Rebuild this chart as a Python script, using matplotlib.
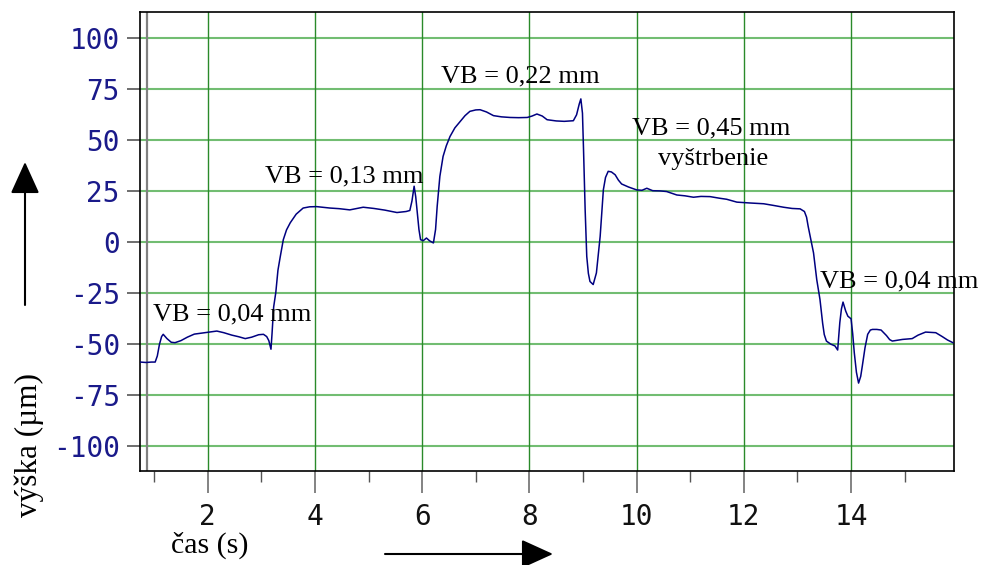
import matplotlib
matplotlib.use("Agg")
import matplotlib.pyplot as plt
from matplotlib.patches import FancyArrowPatch

plt.rcParams["axes.unicode_minus"] = False

# Measured height profile over time
time_s = [
    0.74, 0.85, 0.95, 1.02, 1.06, 1.10, 1.14, 1.17, 1.24, 1.32, 1.39, 1.50, 1.62,
    1.75, 1.86, 2.00, 2.17, 2.30, 2.45, 2.58, 2.70, 2.82, 2.95, 3.04, 3.10,
    3.14, 3.18, 3.20, 3.23, 3.27, 3.31, 3.35, 3.41, 3.47, 3.54, 3.65, 3.78, 3.90,
    4.03, 4.28, 4.45, 4.65, 4.90, 5.10, 5.30, 5.53, 5.70, 5.77, 5.81, 5.85, 5.88,
    5.91, 5.94, 5.97, 6.02, 6.08, 6.14, 6.21, 6.25, 6.28, 6.33, 6.39, 6.45,
    6.52, 6.61, 6.71, 6.80, 6.89, 7.00, 7.08, 7.20, 7.33, 7.48, 7.64, 7.80,
    7.96, 8.05, 8.14, 8.24, 8.33, 8.50, 8.65, 8.82, 8.88, 8.93, 8.96, 8.99,
    9.01, 9.04, 9.07, 9.10, 9.13, 9.19, 9.25, 9.29, 9.32, 9.35, 9.38, 9.42,
    9.47, 9.53, 9.60, 9.66, 9.72, 9.85, 10.00, 10.10, 10.19, 10.30, 10.44,
    10.56, 10.75, 10.90, 11.06, 11.20, 11.37, 11.55, 11.68, 11.87, 12.10,
    12.37, 12.55, 12.74, 12.90, 13.05, 13.13, 13.17, 13.20, 13.25, 13.30, 13.36,
    13.42, 13.47, 13.50, 13.54, 13.62, 13.70, 13.75, 13.79, 13.82, 13.85,
    13.90, 13.94, 14.00, 14.03, 14.06, 14.10, 14.14, 14.18, 14.21, 14.26,
    14.31, 14.36, 14.40, 14.48, 14.56, 14.66, 14.72, 14.77, 14.96, 15.14,
    15.25, 15.39, 15.58, 15.70, 15.80, 15.90,
]
height_um = [
    -59.0, -59.2, -59.0, -59.0, -56.0, -50.3, -46.5, -45.4, -47.5, -49.3, -49.5, -48.5, -46.8,
    -45.3, -44.9, -44.4, -43.8, -44.6, -45.8, -46.6, -47.5, -46.8, -45.6, -45.4, -46.5,
    -48.5, -52.7, -45.0, -32.0, -24.9, -14.0, -7.8, 1.0, 5.8, 9.3, 13.5, 16.5, 17.1,
    17.2, 16.5, 16.2, 15.6, 16.9, 16.3, 15.5, 14.3, 14.8, 15.3, 20.0, 27.2, 22.0,
    14.0, 6.0, 1.0, 0.5, 1.8, 0.4, -0.6, 6.0, 17.3, 32.0, 41.8, 47.0,
    51.6, 55.8, 59.0, 61.8, 63.9, 64.6, 64.7, 63.6, 61.8, 61.2, 60.9, 60.8,
    60.9, 61.6, 62.6, 61.6, 59.8, 59.2, 59.0, 59.3, 62.2, 67.5, 70.0, 63.0,
    45.0, 15.7, -7.2, -15.5, -19.5, -21.0, -15.3, -5.0, 2.6, 14.0, 25.5, 31.5,
    34.5, 34.2, 32.8, 30.2, 28.3, 26.8, 25.4, 25.2, 26.2, 25.0, 24.9,
    24.6, 22.9, 22.5, 21.8, 22.2, 22.1, 21.3, 20.8, 19.4, 19.0,
    18.6, 17.8, 16.9, 16.3, 16.1, 14.8, 12.0, 7.5, 1.0, -5.5, -18.6,
    -28.3, -40.0, -45.5, -48.7, -50.2, -51.1, -53.1, -39.7, -33.0, -29.6,
    -34.0, -36.5, -37.8, -45.0, -54.4, -64.0, -69.3, -66.0, -60.9, -52.0,
    -45.4, -43.3, -43.0, -43.0, -43.3, -46.0, -48.0, -48.7, -47.9, -47.5,
    -45.8, -44.3, -44.6, -46.5, -48.2, -49.5,
]

x_major = [2, 4, 6, 8, 10, 12, 14]
x_minor = [1, 3, 5, 7, 9, 11, 13, 15]
y_ticks = [100, 75, 50, 25, 0, -25, -50, -75, -100]

labels = [
    ("VB = 0,04 mm", 0.98, -38.7),
    ("VB = 0,13 mm", 3.07, 28.9),
    ("VB = 0,22 mm", 6.36, 77.9),
    ("VB = 0,45 mm", 9.92, 52.5),
    ("vyštrbenie", 10.39, 37.8),
    ("VB = 0,04 mm", 13.42, -22.5),
]

serif = "Liberation Serif"
mono = "DejaVu Sans Mono"
navy = "#000080"

fig = plt.figure(figsize=(9.82, 5.65), dpi=100)
ax = fig.add_axes([140 / 982, 1 - 471 / 565, (954 - 140) / 982, (471 - 12) / 565])

ax.set_xlim(0.737, 15.92)
ax.set_ylim(-112.4, 112.6)

# grid
for y in y_ticks:
    ax.axhline(y, color="#72bd72", lw=1.5, zorder=1)
for x in x_major:
    ax.axvline(x, color="#2a8a2a", lw=1.0, zorder=1)
ax.axvline(0.868, color="#808080", lw=1.6, zorder=2)

ax.plot(time_s, height_um, color=navy, lw=1.1, zorder=3)

ax.set_xticks(x_major)
ax.set_xticks(x_minor, minor=True)
ax.set_yticks(y_ticks)
ax.tick_params(axis="x", which="major", direction="out", length=15.8, width=1.2,
               color="#6e6e6e", pad=7, labelsize=20, labelcolor="#111111")
ax.tick_params(axis="x", which="minor", direction="out", length=7.9, width=1.0,
               color="#555555")
ax.tick_params(axis="y", which="major", direction="out", length=9.4, width=1.4,
               color="#6e6e6e", pad=5, labelsize=20, labelcolor="#1a1a8a")
for lab in ax.get_xticklabels() + ax.get_yticklabels():
    lab.set_fontfamily(mono)

for sp in ax.spines.values():
    sp.set_color("black")
    sp.set_linewidth(1.2)

for text, x, y in labels:
    ax.text(x, y, text, fontsize=19, family=serif, color="black",
            ha="left", va="baseline", zorder=4, clip_on=False)

fig.text(210 / 982, 1 - 545 / 565, "čas (s)", fontsize=21.5, family=serif,
         ha="center", va="center")
fig.text(29 / 982, 1 - 445 / 565, "výška (µm)", fontsize=22.5, family=serif,
         ha="center", va="center", rotation=90)

# direction arrows
arrow_kw = dict(arrowstyle="-|>,head_length=1.1,head_width=0.5", color="black",
                lw=1.5, shrinkA=0, shrinkB=0)
fig.patches.append(FancyArrowPatch(
    (25 / 982, 1 - 305 / 565), (25 / 982, 1 - 162 / 565),
    transform=fig.transFigure, mutation_scale=18, **arrow_kw))
fig.patches.append(FancyArrowPatch(
    (385 / 982, 1 - 554 / 565), (553 / 982, 1 - 554 / 565),
    transform=fig.transFigure, mutation_scale=18, **arrow_kw))

fig.savefig("out.png", dpi=100)
